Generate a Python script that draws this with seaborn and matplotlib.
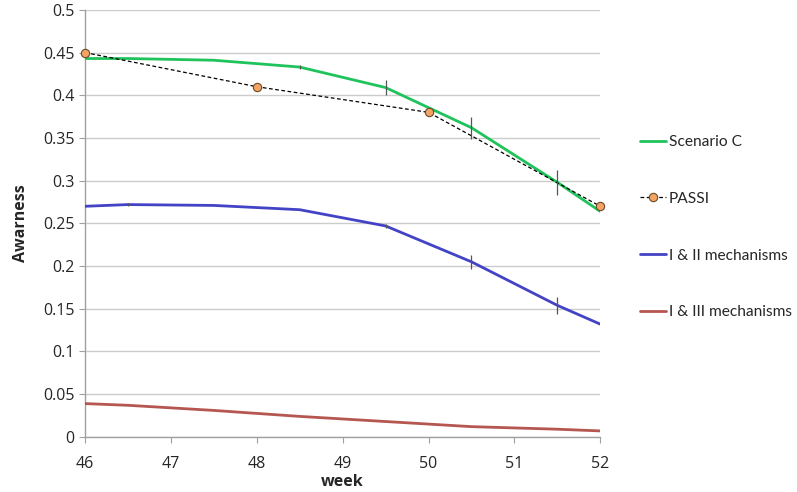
import numpy as np
import pandas as pd
import seaborn as sns
import matplotlib.pyplot as plt

# model weeks (half-week sampling) and survey weeks
weeks = [46, 46.5, 47.5, 48.5, 49.5, 50.5, 51.5, 52]
scenario_c = [0.443, 0.443, 0.441, 0.433, 0.409, 0.362, 0.298, 0.264]
scenario_c_err = [0, 0, 0, 0.002, 0.009, 0.013, 0.015, 0]
mech_12 = [0.270, 0.272, 0.271, 0.266, 0.247, 0.205, 0.154, 0.132]
mech_12_err = [0, 0.002, 0, 0, 0.002, 0.008, 0.010, 0]
mech_13 = [0.039, 0.037, 0.031, 0.024, 0.018, 0.012, 0.009, 0.007]

passi_weeks = [46, 48, 50, 52]
passi = [0.45, 0.41, 0.38, 0.27]

sns.set_style("white")
plt.rcParams['font.family'] = ['Open Sans', 'DejaVu Sans']

fig = plt.figure(figsize=(7.97, 4.92), dpi=100)
ax = fig.add_axes([0.1066, 0.112, 0.6466, 0.868])

model = pd.DataFrame({"week": weeks, "c": scenario_c, "m12": mech_12, "m13": mech_13})
survey = pd.DataFrame({"week": passi_weeks, "passi": passi})

sns.lineplot(data=model, x="week", y="c", ax=ax, color="#1fc35c", lw=2,
             label="Scenario C", zorder=3)
sns.lineplot(data=survey, x="week", y="passi", ax=ax, color="black", lw=0.9,
             linestyle=(0, (3, 2)), marker="o", markersize=6,
             markerfacecolor="#f4a462", markeredgecolor="#6b4a2a",
             markeredgewidth=0.8, label="PASSI", zorder=4, clip_on=False)
sns.lineplot(data=model, x="week", y="m12", ax=ax, color="#4343c6", lw=2,
             label="I & II mechanisms", zorder=3)
sns.lineplot(data=model, x="week", y="m13", ax=ax, color="#b55651", lw=2,
             label="I & III mechanisms", zorder=3)

ax.errorbar(weeks, scenario_c, yerr=scenario_c_err, fmt="none",
            ecolor="#555555", elinewidth=0.9, zorder=5)
ax.errorbar(weeks, mech_12, yerr=mech_12_err, fmt="none",
            ecolor="#555555", elinewidth=0.9, zorder=5)

ax.set_xlim(46, 52)
ax.set_ylim(0, 0.5)
ax.set_xticks(range(46, 53))
yt = np.arange(0, 0.501, 0.05)
ax.set_yticks(yt)
ax.set_yticklabels(["0"] + [f"{v:g}" for v in yt[1:]])
ax.tick_params(axis="both", labelsize=11.5, length=4, color="#a0a0a0",
               direction="out", left=True, bottom=True)
ax.tick_params(axis="x", pad=10)
ax.yaxis.grid(True, color="#cccccc", lw=1)
ax.xaxis.grid(False)
for s in ["top", "right"]:
    ax.spines[s].set_visible(False)
for s in ["left", "bottom"]:
    ax.spines[s].set_color("#a0a0a0")
    ax.spines[s].set_linewidth(1)

ax.set_xlabel("week", fontsize=11.5, fontweight="bold", labelpad=1)
ax.set_ylabel("Awarness", fontsize=11.5, fontweight="bold", labelpad=10)

leg = ax.legend(loc="upper left", bbox_to_anchor=(0.795, 0.738),
                bbox_transform=fig.transFigure, frameon=False,
                prop={"family": ["Lato", "DejaVu Sans"], "size": 11.2},
                handlelength=1.65, handletextpad=0.2, labelspacing=2.75,
                borderaxespad=0)

fig.savefig("out.png", dpi=100)
